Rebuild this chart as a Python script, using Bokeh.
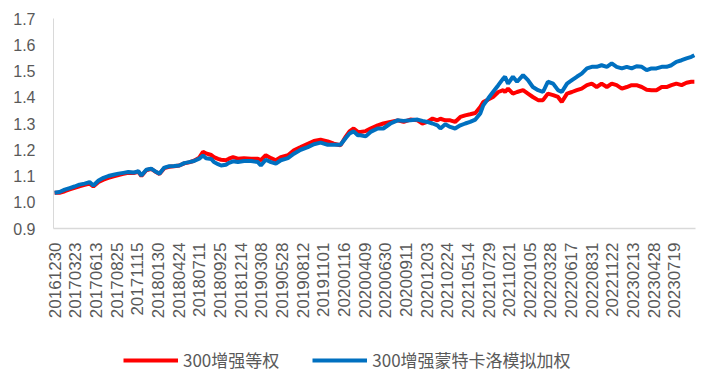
from bokeh.plotting import figure
from bokeh.models import FixedTicker, Legend, LegendItem, Range1d
from bokeh.layouts import column
from bokeh.embed import file_html
from bokeh.resources import INLINE

# trading-day index of each sampled point
day = [0, 13, 27, 40, 53, 66, 80, 93, 103, 117, 130, 143, 157, 170, 183, 196, 210, 223, 231, 244,
       257, 271, 279, 292, 305, 318, 332, 345, 358, 371, 385, 395, 403, 417, 424, 435, 443, 456, 464, 475,
       488, 504, 523, 541, 549, 562, 576, 589, 602, 621, 637, 655, 674, 690, 708, 727, 743, 761, 775, 785,
       796, 807, 814, 828, 841, 860, 875, 894, 913, 929, 947, 966, 979, 992, 1006, 1019, 1027, 1040, 1053, 1066,
       1080, 1093, 1106, 1120, 1133, 1141, 1154, 1167, 1181, 1194, 1199, 1207, 1220, 1231, 1247, 1260, 1273, 1287, 1300, 1313,
       1327, 1340, 1350, 1364, 1377, 1390, 1403, 1417, 1430, 1443, 1456, 1470, 1483, 1496, 1510, 1523, 1536, 1549, 1563, 1576,
       1589, 1602, 1616, 1629, 1642, 1655, 1669, 1682, 1695, 1703]

equal_weight = [1.036, 1.036, 1.042, 1.049, 1.055, 1.061, 1.066, 1.071, 1.060, 1.077, 1.086, 1.093, 1.099, 1.104, 1.108, 1.112, 1.111, 1.116, 1.100, 1.122,
                1.127, 1.114, 1.108, 1.130, 1.135, 1.137, 1.140, 1.148, 1.152, 1.158, 1.170, 1.192, 1.186, 1.180, 1.172, 1.165, 1.162, 1.160, 1.166, 1.172,
                1.166, 1.168, 1.166, 1.166, 1.160, 1.179, 1.168, 1.160, 1.172, 1.179, 1.198, 1.210, 1.223, 1.233, 1.238, 1.232, 1.223, 1.217, 1.250, 1.270,
                1.281, 1.268, 1.268, 1.271, 1.281, 1.293, 1.300, 1.306, 1.312, 1.306, 1.315, 1.312, 1.300, 1.306, 1.319, 1.312, 1.318, 1.312, 1.312, 1.306,
                1.325, 1.331, 1.335, 1.340, 1.363, 1.382, 1.391, 1.401, 1.420, 1.427, 1.420, 1.433, 1.414, 1.420, 1.427, 1.414, 1.401, 1.389, 1.389, 1.414,
                1.408, 1.401, 1.382, 1.414, 1.420, 1.427, 1.433, 1.446, 1.452, 1.439, 1.452, 1.439, 1.452, 1.446, 1.433, 1.439, 1.446, 1.446, 1.439, 1.429,
                1.427, 1.427, 1.439, 1.439, 1.446, 1.452, 1.446, 1.455, 1.459, 1.459]

monte_carlo = [1.036, 1.039, 1.048, 1.054, 1.060, 1.067, 1.071, 1.077, 1.064, 1.083, 1.093, 1.100, 1.105, 1.109, 1.112, 1.115, 1.113, 1.118, 1.102, 1.124,
               1.128, 1.115, 1.109, 1.132, 1.137, 1.138, 1.140, 1.149, 1.153, 1.157, 1.166, 1.178, 1.168, 1.165, 1.153, 1.145, 1.140, 1.143, 1.150, 1.156,
               1.153, 1.157, 1.157, 1.153, 1.140, 1.162, 1.153, 1.147, 1.160, 1.168, 1.185, 1.200, 1.210, 1.221, 1.227, 1.219, 1.219, 1.219, 1.245, 1.262,
               1.270, 1.255, 1.255, 1.251, 1.268, 1.281, 1.281, 1.300, 1.312, 1.310, 1.312, 1.315, 1.310, 1.306, 1.300, 1.293, 1.281, 1.297, 1.287, 1.281,
               1.293, 1.300, 1.306, 1.315, 1.338, 1.369, 1.395, 1.420, 1.446, 1.471, 1.478, 1.452, 1.478, 1.459, 1.484, 1.465, 1.439, 1.427, 1.420, 1.459,
               1.452, 1.427, 1.420, 1.452, 1.465, 1.478, 1.490, 1.510, 1.516, 1.516, 1.522, 1.516, 1.529, 1.516, 1.510, 1.516, 1.510, 1.518, 1.516, 1.503,
               1.510, 1.510, 1.516, 1.516, 1.522, 1.535, 1.541, 1.548, 1.554, 1.560]

tick_days = [0, 55, 110, 165, 220, 275, 330, 385, 440, 495, 550, 605, 660, 715, 770, 825,
             880, 935, 990, 1045, 1100, 1155, 1210, 1265, 1320, 1375, 1430, 1485, 1540, 1595, 1650]
tick_labels = ["20161230", "20170323", "20170613", "20170825", "20171115", "20180130", "20180424",
               "20180711", "20180925", "20181214", "20190308", "20190528", "20190812", "20191101",
               "20200116", "20200409", "20200630", "20200911", "20201203", "20210224", "20210514",
               "20210729", "20211021", "20220105", "20220328", "20220617", "20220831", "20221122",
               "20230213", "20230428", "20230719"]
y_ticks = [0.9, 1.0, 1.1, 1.2, 1.3, 1.4, 1.5, 1.6, 1.7]
names = ["300增强等权", "300增强蒙特卡洛模拟加权"]
colors = ["#FF0000", "#0070C0"]

p = figure(width=700, height=328, output_backend="svg", toolbar_location=None,
           x_range=Range1d(-3, 1706), y_range=Range1d(0.9, 1.7),
           min_border_left=53, min_border_right=5, min_border_top=18, min_border_bottom=100)
p.outline_line_color = None
p.grid.visible = False

p.line(day, equal_weight, line_color=colors[0], line_width=4)
p.line(day, monte_carlo, line_color=colors[1], line_width=4)

p.yaxis.ticker = FixedTicker(ticks=y_ticks)
p.yaxis.major_label_overrides = {v: f"{v:.1f}" for v in y_ticks}
p.yaxis.axis_line_color = "#D9D9D9"
p.yaxis.major_tick_line_color = None
p.yaxis.minor_tick_line_color = None
p.yaxis.major_tick_out = 0
p.yaxis.major_tick_in = 0
p.yaxis.major_label_standoff = 18
p.yaxis.major_label_text_font = "Liberation Sans"
p.yaxis.major_label_text_font_size = "16px"
p.yaxis.major_label_text_color = "#595959"

p.xaxis.ticker = FixedTicker(ticks=tick_days)
p.xaxis.major_label_overrides = dict(zip(tick_days, tick_labels))
p.xaxis.major_label_orientation = 1.5708
p.xaxis.axis_line_color = "#D9D9D9"
p.xaxis.axis_line_width = 1.5
p.xaxis.major_tick_line_color = None
p.xaxis.minor_tick_line_color = None
p.xaxis.major_tick_out = 0
p.xaxis.major_tick_in = 0
p.xaxis.major_label_standoff = 14
p.xaxis.major_label_text_font = "Liberation Sans"
p.xaxis.major_label_text_font_size = "17px"
p.xaxis.major_label_text_color = "#595959"

# legend row in its own strip below the chart
pl = figure(width=700, height=50, output_backend="svg", toolbar_location=None,
            x_range=Range1d(0, 1), y_range=Range1d(0, 1),
            min_border_left=0, min_border_right=0, min_border_top=0, min_border_bottom=0)
pl.axis.visible = False
pl.grid.visible = False
pl.outline_line_color = None
nan = float("nan")
k1 = pl.line([nan], [nan], line_color=colors[0], line_width=4)
k2 = pl.line([nan], [nan], line_color=colors[1], line_width=4)
legend = Legend(items=[LegendItem(label=names[0], renderers=[k1], index=0),
                       LegendItem(label=names[1], renderers=[k2], index=0)],
                orientation="horizontal", location=(70, 6),
                glyph_width=55, glyph_height=20, label_standoff=5, spacing=33,
                padding=0, margin=0, border_line_color=None, background_fill_alpha=0,
                label_text_font="Noto Sans CJK SC", label_text_font_size="17px",
                label_text_color="#595959")
pl.add_layout(legend, "center")

layout = column(p, pl, spacing=0)
open("out.html", "w").write(file_html(layout, INLINE))
